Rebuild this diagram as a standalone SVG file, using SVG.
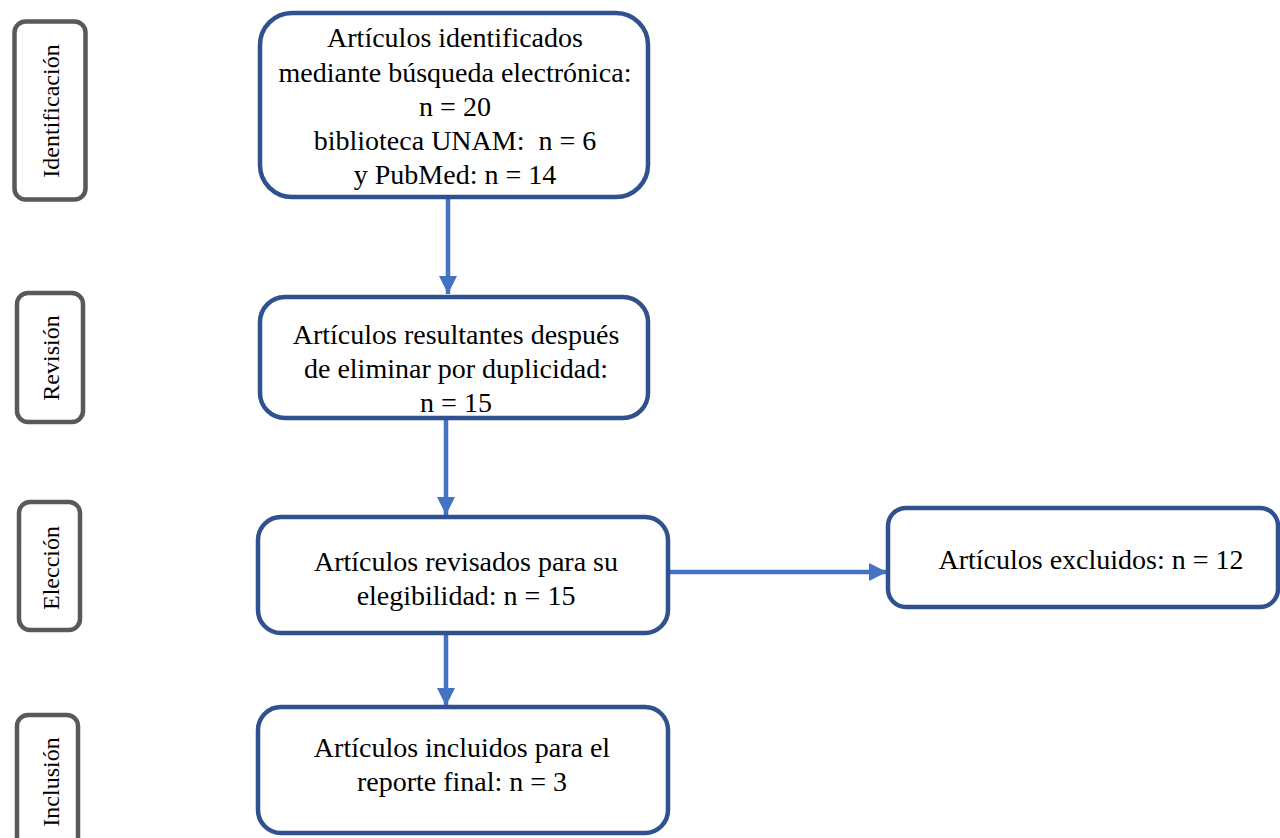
<svg xmlns="http://www.w3.org/2000/svg" width="1280" height="838" viewBox="0 0 1280 838">
<style>
.side{fill:#fff;stroke:#595959;stroke-width:4.5}
.box{fill:#fff;stroke:#2F528F;stroke-width:4.5}
.t{font-family:'Liberation Serif','Times New Roman',serif;font-size:28px;fill:#000;text-anchor:middle;white-space:pre}
.s{font-family:'Liberation Serif','Times New Roman',serif;font-size:24px;fill:#000;text-anchor:middle}
.c{stroke:#4472C4;stroke-width:4.5;fill:none}
</style>
<defs>
<marker id="ah" markerWidth="4" markerHeight="4" refX="4" refY="2" orient="auto" markerUnits="strokeWidth">
<path d="M0,0 L4,2 L0,4 z" fill="#4472C4"/>
</marker>
</defs>
<rect width="1280" height="838" fill="#fff"/>
<g id="side-identificacion">
<rect class="side" x="14.5" y="21.5" width="71" height="178" rx="11"/>
<text class="s" font-family="Liberation Serif, serif" transform="translate(59,111) rotate(-90)">Identificación</text>
</g>
<g id="side-revision">
<rect class="side" x="17" y="293" width="66" height="129" rx="11"/>
<text class="s" font-family="Liberation Serif, serif" transform="translate(59,358) rotate(-90)">Revisión</text>
</g>
<g id="side-eleccion">
<rect class="side" x="19" y="502" width="61" height="128" rx="11"/>
<text class="s" font-family="Liberation Serif, serif" transform="translate(59,568) rotate(-90)">Elección</text>
</g>
<g id="side-inclusion">
<rect class="side" x="17" y="715" width="61" height="140" rx="11"/>
<text class="s" font-family="Liberation Serif, serif" transform="translate(59,782) rotate(-90)">Inclusión</text>
</g>
<g id="connectors">
<line class="c" x1="448" y1="197" x2="448" y2="294" marker-end="url(#ah)"/>
<line class="c" x1="446" y1="418" x2="446" y2="515" marker-end="url(#ah)"/>
<line class="c" x1="446" y1="633" x2="446" y2="706" marker-end="url(#ah)"/>
<line class="c" x1="668" y1="572" x2="887" y2="572" marker-end="url(#ah)"/>
</g>
<g id="n1" font-family="Liberation Serif, serif">
<rect class="box" x="260" y="13" width="388" height="184" rx="32"/>
<text class="t" font-family="Liberation Serif, serif" x="455" y="47">Artículos identificados</text>
<text class="t" font-family="Liberation Serif, serif" x="455" y="82">mediante búsqueda electrónica:</text>
<text class="t" font-family="Liberation Serif, serif" x="455" y="116">n = 20</text>
<text class="t" font-family="Liberation Serif, serif" x="455" y="150" xml:space="preserve">biblioteca UNAM:  n = 6</text>
<text class="t" font-family="Liberation Serif, serif" x="455" y="184">y PubMed: n = 14</text>
</g>
<g id="n2">
<rect class="box" x="260" y="297" width="388" height="121" rx="25"/>
<text class="t" font-family="Liberation Serif, serif" x="456" y="344">Artículos resultantes después</text>
<text class="t" font-family="Liberation Serif, serif" x="456" y="378">de eliminar por duplicidad:</text>
<text class="t" font-family="Liberation Serif, serif" x="456" y="412">n = 15</text>
</g>
<g id="n3">
<rect class="box" x="258" y="517" width="410" height="116" rx="23"/>
<text class="t" font-family="Liberation Serif, serif" x="466" y="571">Artículos revisados para su</text>
<text class="t" font-family="Liberation Serif, serif" x="466" y="605">elegibilidad: n = 15</text>
</g>
<g id="n4">
<rect class="box" x="258" y="707" width="410" height="126" rx="23"/>
<text class="t" font-family="Liberation Serif, serif" x="462" y="757">Artículos incluidos para el</text>
<text class="t" font-family="Liberation Serif, serif" x="462" y="791">reporte final: n = 3</text>
</g>
<g id="n5">
<rect class="box" x="888" y="508" width="390" height="99" rx="18"/>
<text class="t" font-family="Liberation Serif, serif" x="1091" y="569">Artículos excluidos: n = 12</text>
</g>
</svg>
